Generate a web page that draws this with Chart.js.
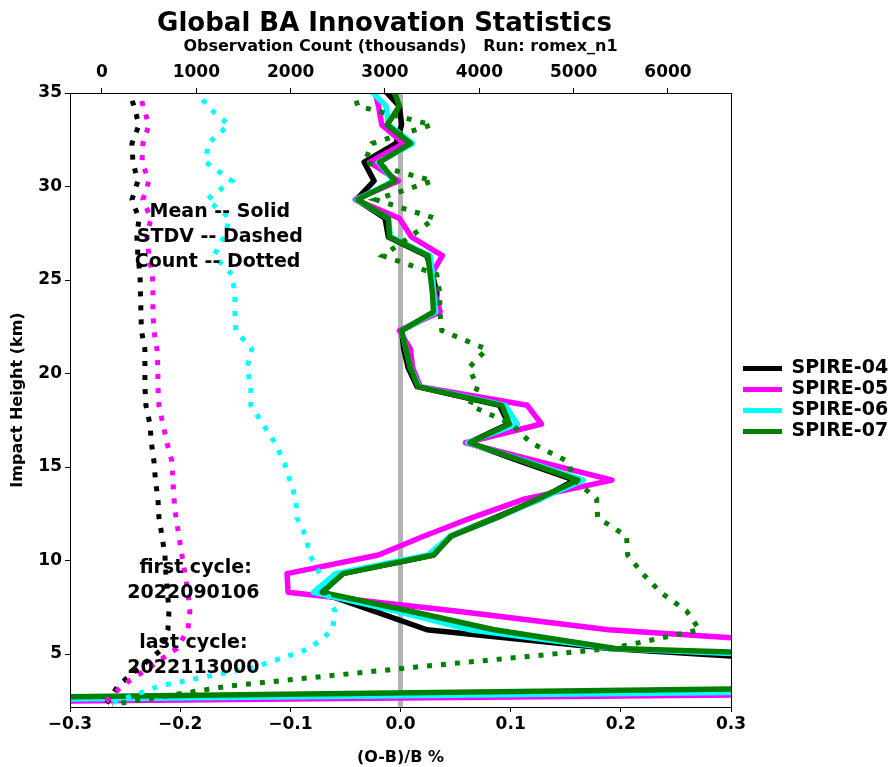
<!DOCTYPE html>
<html>
<head>
<meta charset="utf-8">
<script src="https://cdn.jsdelivr.net/npm/chart.js@4.4.1/dist/chart.umd.min.js"></script>
<style>
html,body{margin:0;padding:0;background:#ffffff;}
canvas{display:block;}
</style>
</head>
<body>
<canvas id="c" width="894" height="767"></canvas>
<script>
// ---------------- data ----------------
const heights = [35.3,34.3,33.3,32.3,31.3,30.3,29.3,28.3,27.3,26.3,25.3,24.3,23.3,22.3,21.3,20.3,19.3,18.3,17.3,16.3,15.3,14.3,13.3,12.3,11.3,10.3,9.3,8.3,7.3,6.3,5.3,4.3,3.3,2.3];

const seriesNames = ['SPIRE-04','SPIRE-05','SPIRE-06','SPIRE-07'];

// mean (O-B)/B %
const mean04 = [-0.017,-0.001,0.001,-0.004,-0.033,-0.024,-0.040,-0.014,-0.011,0.024,0.029,0.033,0.032,0.001,0.003,0.007,0.015,0.090,0.098,0.062,0.109,0.158,0.127,0.086,0.045,0.030,-0.053,-0.073,-0.024,0.024,0.190,0.46,0.70,-0.90];
const mean05 = [-0.024,-0.020,-0.017,0.003,-0.028,-0.002,-0.041,-0.001,0.010,0.038,0.028,0.031,0.036,-0.001,0.009,0.011,0.018,0.115,0.128,0.059,0.125,0.192,0.113,0.065,0.021,-0.020,-0.103,-0.102,0.050,0.189,0.45,0.80,1.20,-0.65];
const mean06 = [-0.030,-0.013,-0.011,0.011,-0.020,-0.006,-0.040,-0.011,-0.009,0.027,0.029,0.030,0.032,0.001,0.005,0.009,0.017,0.095,0.106,0.061,0.114,0.166,0.127,0.088,0.045,0.025,-0.059,-0.079,-0.004,0.063,0.193,0.60,0.90,-0.80];
const mean07 = [-0.007,-0.001,-0.012,0.009,-0.019,-0.005,-0.039,-0.011,-0.010,0.025,0.027,0.029,0.030,0.001,0.005,0.009,0.016,0.092,0.099,0.063,0.112,0.161,0.125,0.088,0.046,0.030,-0.052,-0.071,0.008,0.085,0.195,0.74,0.55,-0.90];

// observation count (thousands)
const count04 = [275,339,392,318,328,381,318,392,370,381,403,408,413,418,455,455,455,466,508,524,551,567,593,604,636,667,678,694,710,699,646,403,169,42];
const count05 = [392,434,498,434,424,498,434,519,477,498,535,540,540,551,583,593,593,604,646,689,742,752,763,784,816,847,879,911,932,911,794,508,212,11];
const count06 = [996,1112,1345,1123,1102,1377,1112,1356,1292,1186,1377,1409,1409,1419,1589,1536,1578,1578,1706,1833,1928,1992,2055,2066,2161,2203,2309,2383,2468,2447,2203,1621,614,64];
const count07 = [2650,2712,3496,2860,2786,3506,2903,3528,3263,2977,3549,3581,3581,3602,4078,3888,3983,3898,4343,4545,4936,5011,5244,5254,5561,5572,5731,5922,6197,6335,5403,3316,1356,106];

// axes ranges and ticks
const yMin = 2.17, yMax = 35;
const xMin = -0.3, xMax = 0.3;
const countMin = -339, countMax = 6668;
const xTickValues = [-0.3,-0.2,-0.1,0,0.1,0.2,0.3];
const countTickValues = [0,1000,2000,3000,4000,5000,6000];
const heightTickValues = [5,10,15,20,25,30,35];

const titleText = 'Global BA Innovation Statistics';
const topAxisText = 'Observation Count (thousands)   Run: romex_n1';
const bottomAxisText = '(O-B)/B %';
const leftAxisText = 'Impact Height (km)';
const notes = [
  {text:'Mean -- Solid',   x:-0.164, y:28.64},
  {text:'STDV -- Dashed',  x:-0.164, y:27.30},
  {text:'Count -- Dotted', x:-0.166, y:25.96},
  {text:'first cycle:',    x:-0.186, y:9.60},
  {text:'2022090106',      x:-0.188, y:8.26},
  {text:'last cycle:',     x:-0.188, y:5.59},
  {text:'2022113000',      x:-0.188, y:4.25}
];

// ---------------- styling ----------------
const FONT = 'DejaVu Sans';
const colors = ['#000000','#ff00ff','#00ffff','#008000'];
Chart.defaults.font.family = FONT;
Chart.defaults.color = '#000';

const means = [mean04, mean05, mean06, mean07];
const counts = [count04, count05, count06, count07];

const datasets = [];
datasets.push({
  label: 'zero',
  data: [{x:0, y:yMin},{x:0, y:yMax}],
  showLine: true, pointRadius: 0, borderColor: '#b3b3b3', borderWidth: 5,
  xAxisID: 'x', yAxisID: 'y', order: 40, clip: 0
});
means.forEach((m, i) => {
  datasets.push({
    label: seriesNames[i],
    data: heights.map((h, j) => ({x: m[j], y: h})),
    showLine: true, pointRadius: 0, borderColor: colors[i], backgroundColor: colors[i],
    borderWidth: 5.5, borderJoinStyle: 'round', tension: 0,
    xAxisID: 'x', yAxisID: 'y', order: 30 - i, clip: 0
  });
});
counts.forEach((c, i) => {
  datasets.push({
    label: seriesNames[i] + ' count',
    data: heights.map((h, j) => ({x: c[j], y: h})),
    showLine: true, pointRadius: 0, borderColor: colors[i],
    borderWidth: 5, borderDash: [5, 9], borderCapStyle: 'butt', tension: 0,
    xAxisID: 'x2', yAxisID: 'y', order: 20 - i, clip: 0
  });
});

const framePlugin = {
  id: 'frame',
  afterDatasetsDraw(chart) {
    const {ctx, chartArea: a} = chart;
    ctx.save();
    ctx.strokeStyle = '#000';
    ctx.lineWidth = 1;
    ctx.strokeRect(Math.round(a.left) + 0.5, Math.round(a.top) + 0.5, Math.round(a.right - a.left), Math.round(a.bottom - a.top));
    ctx.restore();
  }
};

const textPlugin = {
  id: 'texts',
  afterDatasetsDraw(chart) {
    const {ctx, chartArea: a} = chart;
    const xs = chart.scales.x, ys = chart.scales.y;
    ctx.save();
    ctx.fillStyle = '#000';
    ctx.textAlign = 'center';
    ctx.textBaseline = 'middle';
    ctx.font = 'bold 19px "' + FONT + '"';
    notes.forEach(n => ctx.fillText(n.text, xs.getPixelForValue(n.x), ys.getPixelForValue(n.y)));
    ctx.font = 'bold 26px "' + FONT + '"';
    ctx.fillText(titleText, (a.left + a.right) / 2 - 16, 24);
    ctx.restore();
  }
};

const legendShift = {
  id: 'legendShift',
  afterLayout(chart) {
    const lg = chart.legend;
    if (lg) { lg.left += 10; lg.right += 10; }
  }
};

const axisGrid = {drawOnChartArea: false, drawTicks: true, tickLength: 5, color: '#000', lineWidth: 1};
const axisBorder = {display: true, color: '#000', width: 1};
const tickFont = {family: FONT, size: 17, weight: 'bold'};
const titleFont = {family: FONT, size: 16, weight: 'bold'};

const chart = new Chart(document.getElementById('c'), {
  type: 'scatter',
  data: {datasets},
  options: {
    responsive: false,
    animation: false,
    devicePixelRatio: 1,
    layout: {padding: {left: 0, right: 10, top: 0, bottom: 0}},
    plugins: {
      tooltip: {enabled: false},
      title: {display: false},
      legend: {
        display: true, position: 'right', align: 'center', fullSize: false,
        labels: {
          boxWidth: 39, boxHeight: 5, padding: 2, color: '#000',
          font: {family: FONT, size: 19, weight: 'bold'},
          generateLabels: () => seriesNames.map((n, i) => ({
            text: n, fillStyle: colors[i], strokeStyle: colors[i], lineWidth: 0,
            hidden: false, datasetIndex: i + 1, fontColor: '#000'
          }))
        }
      }
    },
    scales: {
      x: {
        type: 'linear', position: 'bottom', min: xMin, max: xMax,
        afterBuildTicks: s => { s.ticks = xTickValues.map(v => ({value: v})); },
        afterFit: s => { s.height = 60; },
        ticks: {
          font: tickFont, color: '#000', padding: 2, maxRotation: 0, autoSkip: false,
          callback: v => (v < -1e-9 ? '\u2212' : '') + Math.abs(v).toFixed(1)
        },
        grid: axisGrid, border: axisBorder,
        title: {display: true, text: bottomAxisText, font: titleFont, color: '#000', padding: {top: 0, bottom: 0}}
      },
      x2: {
        type: 'linear', position: 'top', min: countMin, max: countMax,
        afterBuildTicks: s => { s.ticks = countTickValues.map(v => ({value: v})); },
        afterFit: s => { s.height = 93; },
        ticks: {font: tickFont, color: '#000', padding: 5, maxRotation: 0, autoSkip: false, callback: v => String(v)},
        grid: axisGrid, border: axisBorder,
        title: {display: true, text: topAxisText, font: titleFont, color: '#000', padding: {top: 37, bottom: 0}}
      },
      y: {
        type: 'linear', position: 'left', min: yMin, max: yMax,
        afterBuildTicks: s => { s.ticks = heightTickValues.map(v => ({value: v})); },
        afterFit: s => { s.width = 70; },
        ticks: {font: tickFont, color: '#000', padding: 3, autoSkip: false, callback: v => String(v)},
        grid: axisGrid, border: axisBorder,
        title: {display: true, text: leftAxisText, font: titleFont, color: '#000', padding: {top: 8, bottom: 0}}
      }
    }
  },
  plugins: [framePlugin, textPlugin, legendShift]
});

// keep the plot area's right edge where the reference has it
const dr = chart.chartArea.right - 731;
if (Math.abs(dr) > 0.5) {
  chart.options.layout.padding.right += dr;
  chart.update();
}
</script>
</body>
</html>
